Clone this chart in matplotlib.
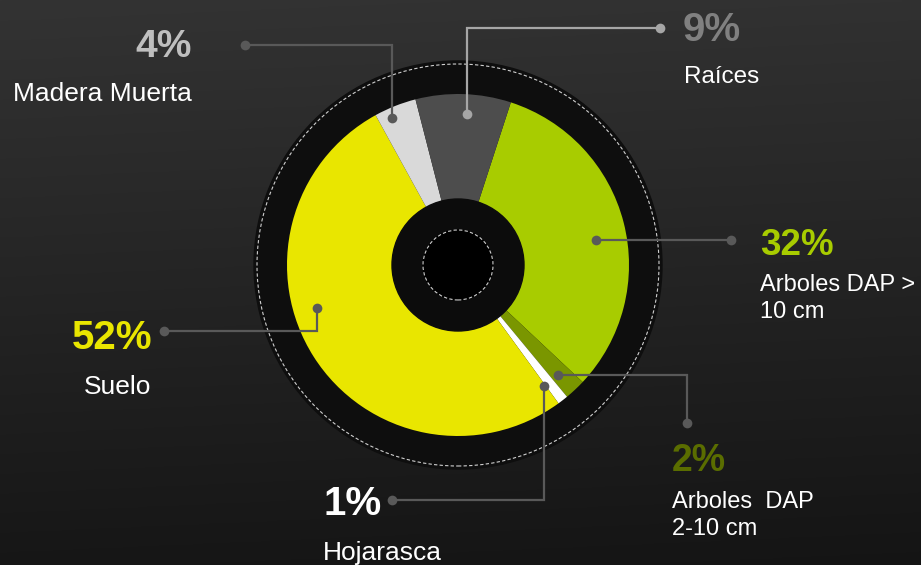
import numpy as np
import matplotlib
matplotlib.use("Agg")
import matplotlib.pyplot as plt
from matplotlib.patches import Circle

W, H = 921, 565

# data (clockwise from the top right)
labels = ["Arboles DAP >\n10 cm", "Arboles  DAP\n2-10 cm", "Hojarasca", "Suelo", "Madera Muerta", "Raíces"]
values = [32, 2, 1, 52, 4, 9]
colors = ["#a8cc00", "#7a9600", "#ffffff", "#e9e600", "#d9d9d9", "#4d4d4d"]
pct_colors = ["#a8cc00", "#5a6d00", "#ffffff", "#e9e600", "#bfbfbf", "#808080"]

# layout, in pixels from top-left
cx, cy = 458, 265
pct_pos = [(760, 255, "left", 26.5), (672, 471, "left", 27), (323, 515, "left", 29),
           (72, 349, "left", 29), (192, 57, "right", 28), (683, 41, "left", 29)]
lab_pos = [(760, 291, 17), (672, 508, 17), (323, 560, 19),
           (84, 394, 19), (13, 101, 19), (684, 83, 17.5)]
leaders = [
    [(596, 240), (731, 240)],
    [(558, 375), (687, 375), (687, 423)],
    [(544, 386), (544, 500), (392, 500)],
    [(317, 308), (317, 331), (164, 331)],
    [(392, 118), (392, 45), (245, 45)],
    [(467, 114), (467, 28), (660, 28)],
]
lead_colors = ["#595959"] * 5 + ["#a6a6a6"]


def Y(py):
    return H - py


fig = plt.figure(figsize=(W / 100, H / 100), dpi=100)
ax = fig.add_axes([0, 0, 1, 1])
ax.set_xlim(0, W)
ax.set_ylim(0, H)
ax.set_aspect("equal")
ax.axis("off")

# background gradient
g = np.linspace(0, 1, 200)[:, None] * 0.7 + np.linspace(0, 1, 300)[None, :] * 0.05
g = g / g.max()
top, bot = np.array([0.20, 0.20, 0.20]), np.array([0.08, 0.08, 0.08])
img = top[None, None, :] * (1 - g[..., None]) + bot[None, None, :] * g[..., None]
ax.imshow(img, extent=[0, W, 0, H], origin="upper", aspect="auto", zorder=0)

ax.add_patch(Circle((cx, Y(cy)), 204, color="#0e0e0e", zorder=1))
ax.add_patch(Circle((cx, Y(cy)), 201, fill=False, ec="#cfcfcf", lw=0.8,
                    ls=(0, (3, 2)), zorder=2))

ax.pie(values, colors=colors, startangle=72, counterclock=False,
       center=(cx, Y(cy)), radius=171, frame=True,
       wedgeprops=dict(linewidth=0, zorder=3))
ax.set_xlim(0, W)
ax.set_ylim(0, H)
ax.axis("off")

ax.add_patch(Circle((cx, Y(cy)), 66, color="#0c0c0c", zorder=4))
ax.add_patch(Circle((cx, Y(cy)), 35, color="#000000", zorder=5))
ax.add_patch(Circle((cx, Y(cy)), 35, fill=False, ec="#cfcfcf", lw=0.8,
                    ls=(0, (3, 2)), zorder=6))

for pts, c in zip(leaders, lead_colors):
    xs = [p[0] for p in pts]
    ys = [Y(p[1]) for p in pts]
    ax.plot(xs, ys, color=c, lw=1.6, zorder=7, solid_joinstyle="miter")
    ax.plot([xs[0], xs[-1]], [ys[0], ys[-1]], "o", color=c, ms=7, mec="none", zorder=8)

font = "Liberation Sans"
for v, pc, (px, py, ha, fs) in zip(values, pct_colors, pct_pos):
    ax.text(px, Y(py), f"{v}%", color=pc, fontsize=fs, fontweight="bold",
            ha=ha, va="baseline", family=font, zorder=9)

for lab, (px, py, fs) in zip(labels, lab_pos):
    lines = lab.split("\n")
    for i, line in enumerate(lines):
        ax.text(px, Y(py + i * 27), line, color="white", fontsize=fs,
                ha="left", va="baseline", family=font, zorder=9)

fig.savefig("out.png", dpi=100)
